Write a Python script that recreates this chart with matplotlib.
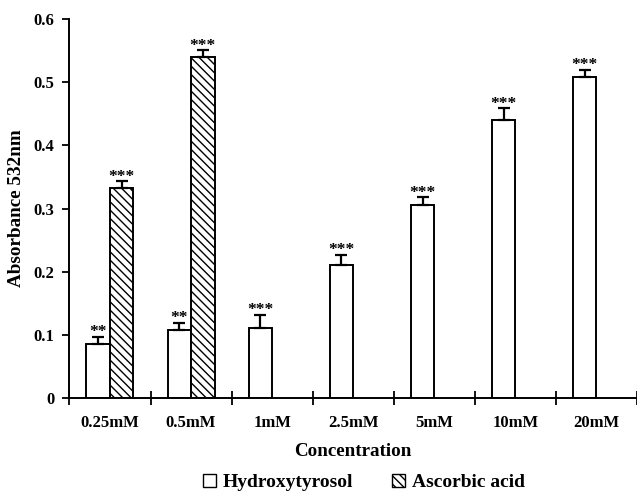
import matplotlib.pyplot as plt
import numpy as np
from matplotlib.patches import Patch

plt.rcParams['font.family'] = 'Liberation Serif'
plt.rcParams['font.weight'] = 'bold'
plt.rcParams['axes.labelweight'] = 'bold'
plt.rcParams['hatch.linewidth'] = 1.0

# Data
concentrations = ['0.25mM', '0.5mM', '1mM', '2.5mM', '5mM', '10mM', '20mM']
hydroxytyrosol = [0.086, 0.108, 0.110, 0.210, 0.305, 0.441, 0.508]
hydroxytyrosol_err = [0.011, 0.011, 0.022, 0.017, 0.013, 0.018, 0.012]
hydroxytyrosol_sig = ['**', '**', '***', '***', '***', '***', '***']
ascorbic = [0.332, 0.540]
ascorbic_err = [0.011, 0.011]
ascorbic_sig = ['***', '***']


def main():
    fig = plt.figure(figsize=(6.37, 4.93), dpi=100)
    ax = fig.add_axes([0.109, 0.193, 0.891, 0.768])

    width = 0.29
    centers = np.arange(len(concentrations)) + 0.5
    x_h = centers - width / 2
    x_a = centers[:len(ascorbic)] + width / 2

    ax.bar(x_h, hydroxytyrosol, width, color='white', edgecolor='black',
           linewidth=1.4, zorder=2)
    ax.bar(x_a, ascorbic, width, color='white', edgecolor='black',
           linewidth=1.4, hatch='\\\\\\\\', zorder=2)

    # upper error bars only
    ax.errorbar(x_h, hydroxytyrosol, yerr=[np.zeros(len(x_h)), hydroxytyrosol_err],
                fmt='none', ecolor='black', elinewidth=1.6, capsize=4.5,
                capthick=1.6, zorder=3)
    ax.errorbar(x_a, ascorbic, yerr=[np.zeros(len(x_a)), ascorbic_err],
                fmt='none', ecolor='black', elinewidth=1.6, capsize=4.5,
                capthick=1.6, zorder=3)

    # significance stars
    for x, y, e, s in zip(x_h, hydroxytyrosol, hydroxytyrosol_err, hydroxytyrosol_sig):
        ax.annotate(s, (x, y + e), xytext=(0, -2.5), textcoords='offset points',
                    ha='center', va='bottom', fontsize=12.5)
    for x, y, e, s in zip(x_a, ascorbic, ascorbic_err, ascorbic_sig):
        ax.annotate(s, (x, y + e), xytext=(0, -2.5), textcoords='offset points',
                    ha='center', va='bottom', fontsize=12.5)

    ax.set_xlim(0, 6.92)
    ax.set_ylim(0, 0.6)

    ax.set_yticks([0, 0.1, 0.2, 0.3, 0.4, 0.5, 0.6])
    ax.set_yticklabels(['0', '0.1', '0.2', '0.3', '0.4', '0.5', '0.6'], fontsize=12)
    ax.tick_params(axis='y', direction='out', length=5, width=1.3, pad=6)

    # boundaries as major ticks, labels on minor ticks at centers
    ax.set_xticks(np.arange(len(concentrations) + 1))
    ax.set_xticklabels([])
    ax.tick_params(axis='x', which='major', direction='inout', length=10, width=1.3)
    ax.set_xticks(centers, minor=True)
    ax.set_xticklabels(concentrations, minor=True, fontsize=12)
    ax.tick_params(axis='x', which='minor', length=0, pad=12)

    for side in ['top', 'right']:
        ax.spines[side].set_visible(False)
    for side in ['left', 'bottom']:
        ax.spines[side].set_linewidth(1.4)

    ax.set_ylabel('Absorbance 532nm', fontsize=13.8, labelpad=6)
    ax.set_xlabel('Concentration', fontsize=13.7, labelpad=9)

    handles = [Patch(facecolor='white', edgecolor='black', linewidth=1.0),
               Patch(facecolor='white', edgecolor='black', linewidth=1.0,
                     hatch='\\\\\\\\')]
    fig.legend(handles, ['Hydroxytyrosol', 'Ascorbic acid'], ncol=2,
               loc='center', bbox_to_anchor=(0.571, 0.021), frameon=False,
               fontsize=14, handlelength=0.68, handleheight=0.68,
               handletextpad=0.35, columnspacing=2.0, borderpad=0.2)

    fig.savefig('out.png', dpi=100)


if __name__ == '__main__':
    main()
